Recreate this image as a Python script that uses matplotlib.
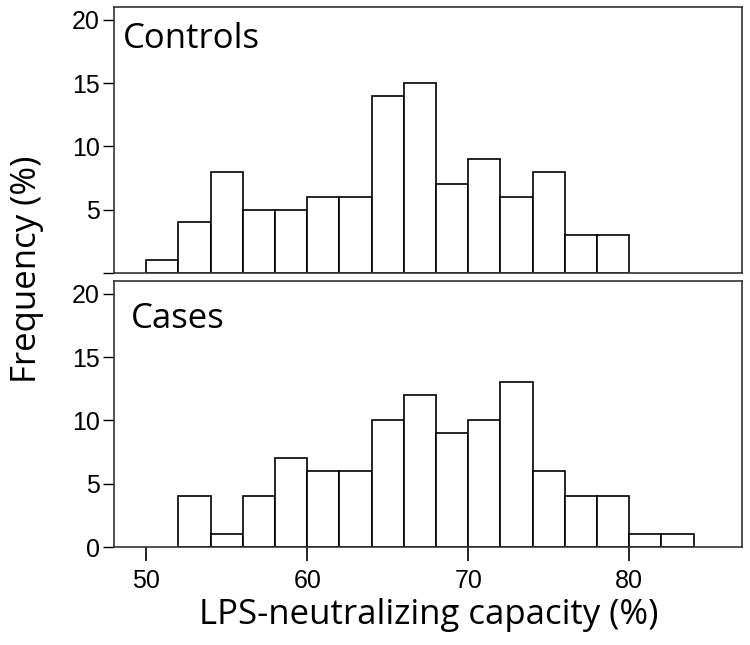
import matplotlib
matplotlib.use("Agg")
import matplotlib.pyplot as plt
import numpy as np

# bin left edges and frequencies (%)
controls_bins = [50, 52, 54, 56, 58, 60, 62, 64, 66, 68, 70, 72, 74, 76, 78]
controls_freq = [1, 4, 8, 5, 5, 6, 6, 14, 15, 7, 9, 6, 8, 3, 3]
cases_bins = [52, 54, 56, 58, 60, 62, 64, 66, 68, 70, 72, 74, 76, 78, 80, 82]
cases_freq = [4, 1, 4, 7, 6, 6, 10, 12, 9, 10, 13, 6, 4, 4, 1, 1]
bin_width = 2
x_ticks = [50, 60, 70, 80]
y_ticks = [0, 5, 10, 15, 20]

fig = plt.figure(figsize=(7.5, 6.45), dpi=100)
ax1 = fig.add_axes([0.152, 0.5767, 0.8373, 0.4124])
ax2 = fig.add_axes([0.152, 0.1519, 0.8373, 0.4124])

tickfam = ["Liberation Sans", "DejaVu Sans"]
tsize = 18
labfont = ["Open Sans", "DejaVu Sans"]
lsize = 25

for ax, bins, freq, name, tx, ty in [(ax1, controls_bins, controls_freq, "Controls", 0.014, 0.945),
                                     (ax2, cases_bins, cases_freq, "Cases", 0.027, 0.922)]:
    ax.bar(bins, freq, width=bin_width, align="edge", facecolor="white",
           edgecolor="black", linewidth=1.2)
    ax.set_xlim(48, 87)
    ax.set_ylim(0, 21)
    ax.set_yticks(y_ticks)
    for s in ax.spines.values():
        s.set_linewidth(1.2)
        s.set_color("#333333")
    ax.text(tx, ty, name, transform=ax.transAxes, ha="left", va="top",
            family=labfont, fontsize=lsize)

ax1.set_yticklabels(["", "5", "10", "15", "20"])
ax1.tick_params(axis="y", direction="out", length=8, width=1.0, pad=2,
                labelsize=tsize)
ax1.tick_params(axis="x", bottom=False, labelbottom=False)
ax1.spines["bottom"].set_visible(False)
ax1.axhline(0, color="#333333", lw=1.2, xmin=0.0, xmax=1.0, clip_on=False)

ax2.set_yticklabels(["0", "5", "10", "15", "20"])
ax2.tick_params(axis="y", direction="out", length=8, width=1.0, pad=2,
                labelsize=tsize)
ax2.set_xticks(x_ticks)
ax2.set_xticklabels([str(v) for v in x_ticks])
ax2.tick_params(axis="x", direction="out", length=10, width=1.2, pad=6,
                labelsize=tsize)
for lab in ax2.get_xticklabels() + ax2.get_yticklabels() + ax1.get_yticklabels():
    lab.set_fontfamily(tickfam)

fig.text(0.571, 0.047, "LPS-neutralizing capacity (%)", ha="center", va="center",
         family=labfont, fontsize=lsize)
fig.text(0.036, 0.583, "Frequency (%)", ha="center", va="center",
         rotation=90, family=labfont, fontsize=lsize)

fig.savefig("out.png", dpi=100)
